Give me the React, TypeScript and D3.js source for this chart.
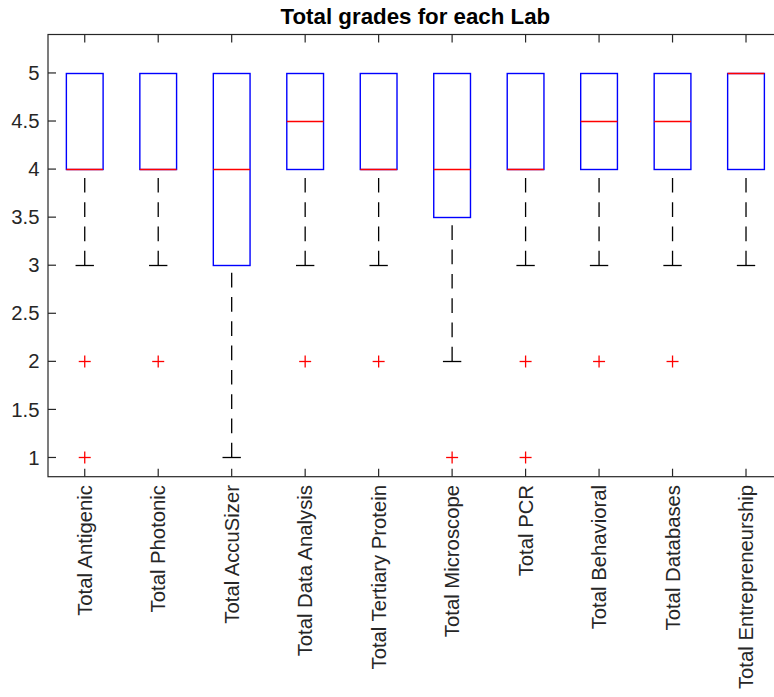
import React from "react";
import * as d3 from "d3";

// Lab categories and their box statistics
const labs = [
  "Total Antigenic",
  "Total Photonic",
  "Total AccuSizer",
  "Total Data Analysis",
  "Total Tertiary Protein",
  "Total Microscope",
  "Total PCR",
  "Total Behavioral",
  "Total Databases",
  "Total Entrepreneurship",
];
const q1 = [4, 4, 3, 4, 4, 3.5, 4, 4, 4, 4];
const medians = [4, 4, 4, 4.5, 4, 4, 4, 4.5, 4.5, 5];
const q3 = [5, 5, 5, 5, 5, 5, 5, 5, 5, 5];
const lowerWhisker = [3, 3, 1, 3, 3, 2, 3, 3, 3, 3];
const upperWhisker = [5, 5, 5, 5, 5, 5, 5, 5, 5, 5];
const outliers: number[][] = [[2, 1], [2], [], [2], [2], [1], [2, 1], [2], [2], []];
const yTicks = [1, 1.5, 2, 2.5, 3, 3.5, 4, 4.5, 5];

const W = 774;
const H = 697;
const left = 48;
const right = 782.75;
const top = 34.5;
const bottom = 476.7;

const FONT = "'Liberation Sans', Arial, Helvetica, sans-serif";
const AXIS = "#262626";

export default function App() {
  const x = d3.scaleLinear().domain([0.5, labs.length + 0.5]).range([left, right]);
  const y = d3.scaleLinear().domain([0.8, 5.4]).range([bottom, top]);
  // snap horizontal strokes to the pixel grid so thin lines stay crisp
  const py = (v: number) => Math.round(y(v)) + 0.5;
  const unit = x(1) - x(0);
  const boxHalf = unit * 0.25;
  const capHalf = unit * 0.125;
  const tickLen = 8;

  return (
    <svg
      width={W}
      height={H}
      style={{ position: "absolute", left: 0, top: 0, background: "#fff" }}
      fontFamily={FONT}
    >
      <rect x={0} y={0} width={W} height={H} fill="#fff" />
      <text x={(left + right) / 2} y={24} textAnchor="middle" fontWeight="bold" fontSize={22.3} fill="#000">
        Total grades for each Lab
      </text>

      {/* axes frame */}
      <rect x={left} y={top} width={right - left} height={bottom - top} fill="none" stroke={AXIS} strokeWidth={1.2} />

      {/* y ticks */}
      {yTicks.map((t) => (
        <g key={t}>
          <line x1={left} x2={left + tickLen} y1={y(t)} y2={y(t)} stroke={AXIS} strokeWidth={1.2} />
          <text x={39.5} y={y(t)} dy="0.35em" textAnchor="end" fontSize={20.3} fill={AXIS}>
            {t}
          </text>
        </g>
      ))}

      {/* x ticks and rotated labels */}
      {labs.map((lab, i) => {
        const cx = x(i + 1);
        return (
          <g key={lab}>
            <line x1={cx} x2={cx} y1={top} y2={top + tickLen} stroke={AXIS} strokeWidth={1.2} />
            <line x1={cx} x2={cx} y1={bottom} y2={bottom - tickLen} stroke={AXIS} strokeWidth={1.2} />
            <text
              transform={`translate(${cx},${485}) rotate(-90)`}
              dy="0.35em"
              textAnchor="end"
              fontSize={20.3}
              fill={AXIS}
            >
              {lab}
            </text>
          </g>
        );
      })}

      {/* boxes */}
      {labs.map((lab, i) => {
        const cx = x(i + 1);
        return (
          <g key={"b" + lab}>
            {/* whiskers drawn from the whisker end towards the box */}
            {lowerWhisker[i] < q1[i] && (
              <>
                <line
                  x1={cx}
                  x2={cx}
                  y1={py(lowerWhisker[i])}
                  y2={py(q1[i])}
                  stroke="#000"
                  strokeWidth={1.3}
                  strokeDasharray="14.7 9.6"
                />
                <line x1={cx - capHalf} x2={cx + capHalf} y1={py(lowerWhisker[i])} y2={py(lowerWhisker[i])} stroke="#000" strokeWidth={1.3} />
              </>
            )}
            {upperWhisker[i] > q3[i] && (
              <>
                <line
                  x1={cx}
                  x2={cx}
                  y1={py(upperWhisker[i])}
                  y2={py(q3[i])}
                  stroke="#000"
                  strokeWidth={1.3}
                  strokeDasharray="14.7 9.6"
                />
                <line x1={cx - capHalf} x2={cx + capHalf} y1={py(upperWhisker[i])} y2={py(upperWhisker[i])} stroke="#000" strokeWidth={1.3} />
              </>
            )}
            <rect
              x={cx - boxHalf}
              y={py(q3[i])}
              width={boxHalf * 2}
              height={py(q1[i]) - py(q3[i])}
              fill="none"
              stroke="#0000ff"
              strokeWidth={1.4}
            />
            <line x1={cx - boxHalf} x2={cx + boxHalf} y1={py(medians[i])} y2={py(medians[i])} stroke="#ff0000" strokeWidth={1.5} />
            {outliers[i].map((v, k) => (
              <g key={k} stroke="#ff0000" strokeWidth={1.3}>
                <line x1={cx - 6} x2={cx + 6} y1={py(v)} y2={py(v)} />
                <line x1={cx} x2={cx} y1={py(v) - 6} y2={py(v) + 6} />
              </g>
            ))}
          </g>
        );
      })}
    </svg>
  );
}
